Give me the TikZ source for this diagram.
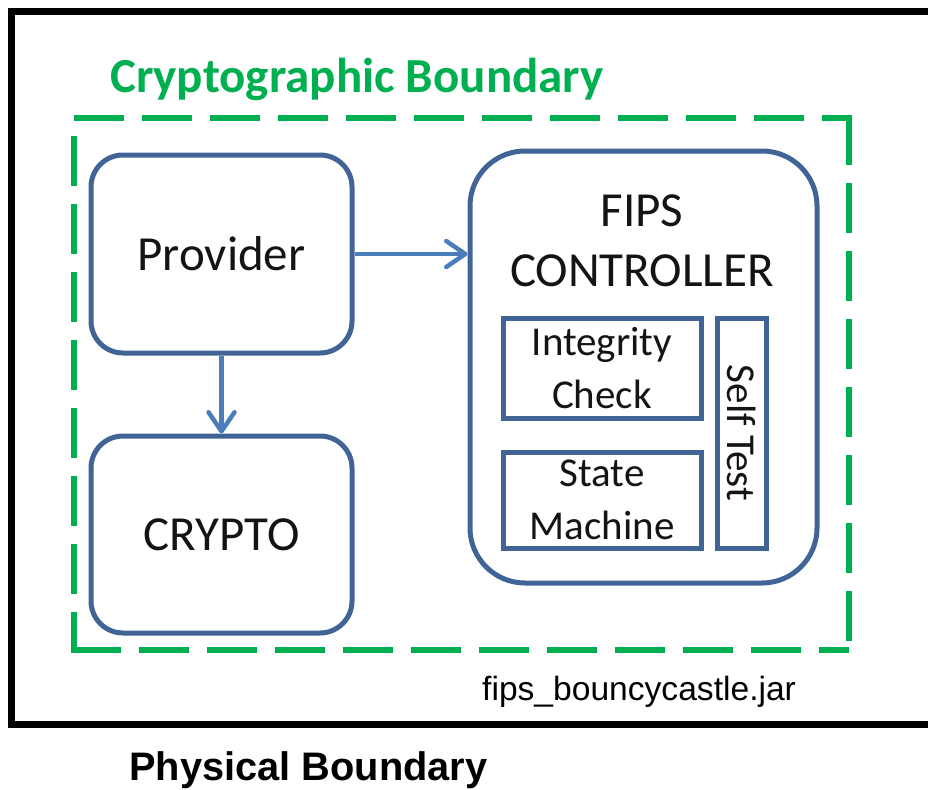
\documentclass[tikz,border=0pt]{standalone}
\usepackage{fontspec}
\newfontfamily\carlito{Carlito}
\newfontfamily\arialf{Liberation Sans}
\usetikzlibrary{arrows.meta}
\definecolor{boxblue}{RGB}{64,100,150}
\definecolor{arrowblue}{RGB}{74,126,187}
\definecolor{bgreen}{RGB}{0,176,80}
\definecolor{textdark}{RGB}{20,20,20}
\begin{document}
\begin{tikzpicture}[x=1pt,y=-1pt,
  rbox/.style={draw=boxblue, line width=5pt, rounded corners=32pt, fill=white,
    inner sep=0pt, text=textdark, font=\carlito\fontsize{49}{60}\selectfont},
  sbox/.style={draw=boxblue, line width=5pt, fill=white, inner sep=0pt,
    text=textdark, align=center, font=\carlito\fontsize{41}{53}\selectfont},
  arr/.style={draw=arrowblue, line width=4.5pt,
    -{Straight Barb[length=19pt, width=26pt, round]}},
  gdash/.style={draw=bgreen, line width=6pt, dash pattern=on 50pt off 18pt},
  plain/.style={inner sep=0pt, anchor=base west}]
\useasboundingbox (0,0) rectangle (928,789);
\clip (0,0) rectangle (928,789);

% physical boundary frame
\draw[line width=7pt] (11.5,11.5) rectangle (940,724);

% cryptographic boundary (dashed, each side with its own dash phase)
\draw[gdash] (74,118) -- (852,118);
\draw[gdash] (849,115) -- (849,650);
\draw[gdash] (71,650) -- (849,650);
\draw[gdash, dash phase=50pt] (74,118) -- (74,653);

\node[plain, text=bgreen, font=\carlito\bfseries\fontsize{49}{58}\selectfont]
  (cbtitle) at (110,93) {Cryptographic Boundary};

% module blocks
\node[rbox, minimum width=261pt, minimum height=198pt] (prov) at (221.5,254) {Provider};
\node[rbox, minimum width=261pt, minimum height=197pt] (crypto) at (221.5,534.5) {CRYPTO};
\node[rbox, rounded corners=55pt, minimum width=347pt, minimum height=432pt] (fips) at (643.5,367) {};
\node[inner sep=0pt, align=center, text=textdark, font=\carlito\fontsize{49}{60}\selectfont]
  (fipslbl) at (642,241) {FIPS\\CONTROLLER};

\node[sbox, minimum width=198pt, minimum height=100pt] (integ) at (602,368) {Integrity\\Check};
\node[sbox, minimum width=198pt, minimum height=96pt] (state) at (602,500) {State\\Machine};
\node[sbox, rotate=-90, minimum width=230pt, minimum height=49pt] (selft) at (741.5,433) {Self Test};

% data flow
\draw[arr] (prov.south) -- (crypto.north);
\draw[arr] (prov.east) -- (prov.east -| fips.west);

\node[plain, text=black, font=\arialf\fontsize{33.6}{40}\selectfont]
  (jar) at (482,700) {fips\_bouncycastle.jar};
\node[plain, text=black, font=\arialf\bfseries\fontsize{39.8}{48}\selectfont]
  (phys) at (129,780) {Physical Boundary};
\end{tikzpicture}
\end{document}
